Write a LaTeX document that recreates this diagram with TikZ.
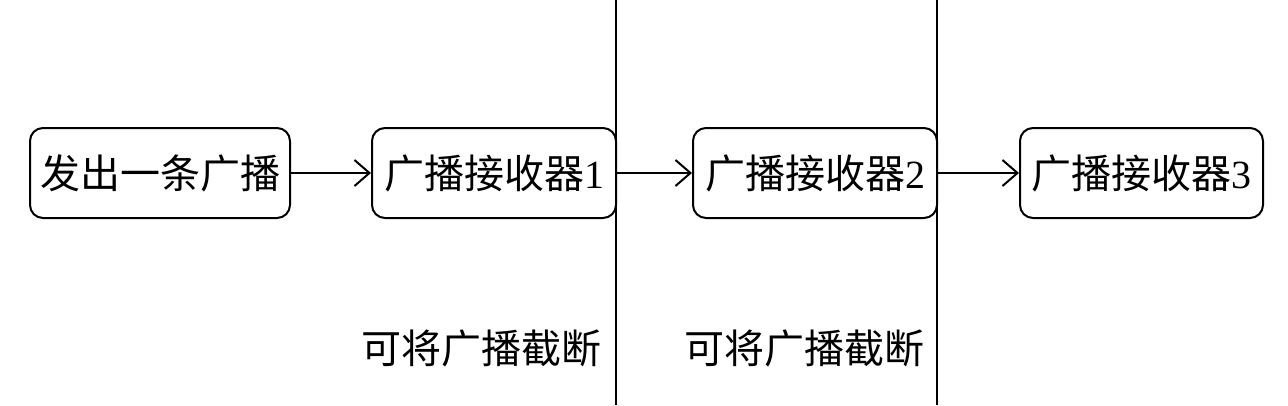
\documentclass[tikz,border=0pt]{standalone}
\usepackage{fontspec}
\setmainfont{Liberation Serif}
\newfontfamily\cjk{Noto Sans CJK SC}
\usetikzlibrary{arrows.meta}
\begin{document}
\begin{tikzpicture}[x=1pt,y=-1pt,
  boxnode/.style={draw, line width=2pt, rounded corners=13pt, minimum height=90pt, inner sep=0pt, font=\fontsize{40}{42}\selectfont},
  conn/.style={line width=2pt, -{Straight Barb[length=15pt,width=26pt,line width=2pt]}},
  divider/.style={line width=2pt},
  lbl/.style={font=\fontsize{40}{42}\selectfont, inner sep=0pt}]
\useasboundingbox (0,0) rectangle (1288,405);
\node[boxnode, minimum width=260pt] (b1) at (160,173) {\cjk 发出一条广播};
\node[boxnode, minimum width=244pt] (b2) at (494,173) {{\cjk 广播接收器}1};
\node[boxnode, minimum width=244pt] (b3) at (815,173) {{\cjk 广播接收器}2};
\node[boxnode, minimum width=243pt] (b4) at (1141.5,173) {{\cjk 广播接收器}3};
\draw[conn] (b1) -- (b2);
\draw[conn] (b2) -- (b3);
\draw[conn] (b3) -- (b4);
\coordinate (v1t) at (616,0);
\coordinate (v1b) at (616,405);
\coordinate (v2t) at (937,0);
\coordinate (v2b) at (937,405);
\draw[divider] (v1t) -- (v1b);
\draw[divider] (v2t) -- (v2b);
\node[lbl] (l1) at (481,348) {\cjk 可将广播截断};
\node[lbl] (l2) at (804,348) {\cjk 可将广播截断};
\end{tikzpicture}
\end{document}
